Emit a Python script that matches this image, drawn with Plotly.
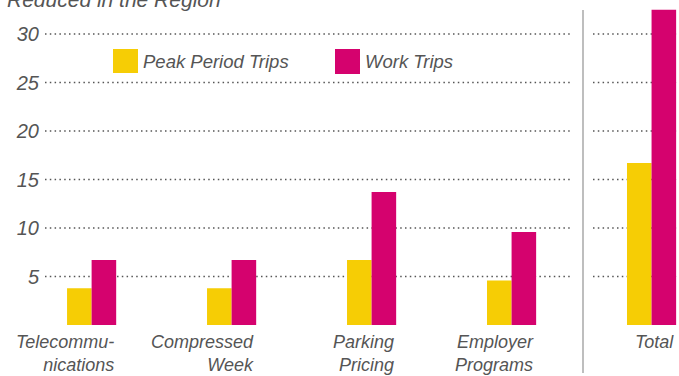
import plotly.graph_objects as go

# Trip reductions by strategy (percent reduced in the region)
categories = ["Telecommunications", "Compressed Week", "Parking Pricing",
              "Employer Programs", "Total"]
category_labels = ["Telecommu-<br>nications", "Compressed<br>Week",
                   "Parking<br>Pricing", "Employer<br>Programs", "Total"]
peak_period_trips = [3.8, 3.8, 6.7, 4.6, 16.7]
work_trips = [6.7, 6.7, 13.7, 9.6, 32.5]
y_ticks = [5, 10, 15, 20, 25, 30]

YELLOW = "#F6CD05"
MAGENTA = "#D5026E"
TEXT = "#555555"
FONT = "Liberation Sans"


def italic(size):
    return dict(family=FONT, size=size, color=TEXT, style="italic")


fig = go.Figure()
fig.add_trace(go.Bar(name="Peak Period Trips", x=categories, y=peak_period_trips,
                     marker=dict(color=YELLOW, line=dict(width=0))))
fig.add_trace(go.Bar(name="Work Trips", x=categories, y=work_trips,
                     marker=dict(color=MAGENTA, line=dict(width=0))))

H_PLOT = 325.0  # plot area height in px (top margin 0)
W_PLOT = 639.0
L_MARGIN = 40.0


def px_x(px):
    return (px - L_MARGIN) / W_PLOT


def px_y(py):
    return (H_PLOT - py) / H_PLOT


shapes = []
# dotted gridlines: main panel and the Total panel
for v in y_ticks:
    for x0, x1 in [(px_x(45), px_x(573)), (px_x(593), 1.0)]:
        shapes.append(dict(type="line", xref="paper", yref="y", x0=x0, x1=x1,
                           y0=v, y1=v, layer="below",
                           line=dict(color="#555555", width=1.5, dash="1.5px,3.3px")))
# separator between the strategies and the total
shapes.append(dict(type="line", xref="paper", yref="paper",
                   x0=px_x(583), x1=px_x(583), y0=px_y(10), y1=px_y(373),
                   line=dict(color="#A8A8A8", width=1.5)))
# legend swatches
shapes.append(dict(type="rect", xref="paper", yref="paper",
                   x0=px_x(113), x1=px_x(138), y0=px_y(73), y1=px_y(49),
                   fillcolor=YELLOW, line=dict(width=0)))
shapes.append(dict(type="rect", xref="paper", yref="paper",
                   x0=px_x(335), x1=px_x(360), y0=px_y(74), y1=px_y(49),
                   fillcolor=MAGENTA, line=dict(width=0)))

annotations = [
    dict(text="Peak Period Trips", xref="paper", yref="paper", x=px_x(141), y=px_y(61),
         xanchor="left", yanchor="middle", showarrow=False, font=italic(18.5)),
    dict(text="Work Trips", xref="paper", yref="paper", x=px_x(363), y=px_y(61),
         xanchor="left", yanchor="middle", showarrow=False, font=italic(18.5)),
    dict(text="Reduced in the Region", xref="paper", yref="paper", x=px_x(5), y=px_y(13),
         xanchor="left", yanchor="bottom", showarrow=False, font=italic(21)),
]
# category labels, right-aligned with each pair of bars
for i, lab in enumerate(category_labels):
    annotations.append(dict(text=lab, xref="x", yref="paper", x=i + 0.176, y=px_y(329.5),
                            xanchor="right", yanchor="top", align="right", showarrow=False,
                            font=italic(18)))

fig.update_layout(
    width=679, height=376,
    margin=dict(l=int(L_MARGIN), r=0, t=0, b=int(376 - H_PLOT)),
    paper_bgcolor="white", plot_bgcolor="white",
    barmode="group", bargap=0.649, bargroupgap=0,
    showlegend=False,
    font=italic(18),
    xaxis=dict(type="category", range=[-0.3687, 4.196], showticklabels=False,
               showgrid=False, zeroline=False, showline=False, ticks=""),
    yaxis=dict(range=[0, H_PLOT / 9.7], tickvals=y_ticks, showgrid=False,
               zeroline=False, showline=False, ticks="", ticklen=0,
               tickfont=italic(20)),
    shapes=shapes,
    annotations=annotations,
)

fig.write_html("out.html")
